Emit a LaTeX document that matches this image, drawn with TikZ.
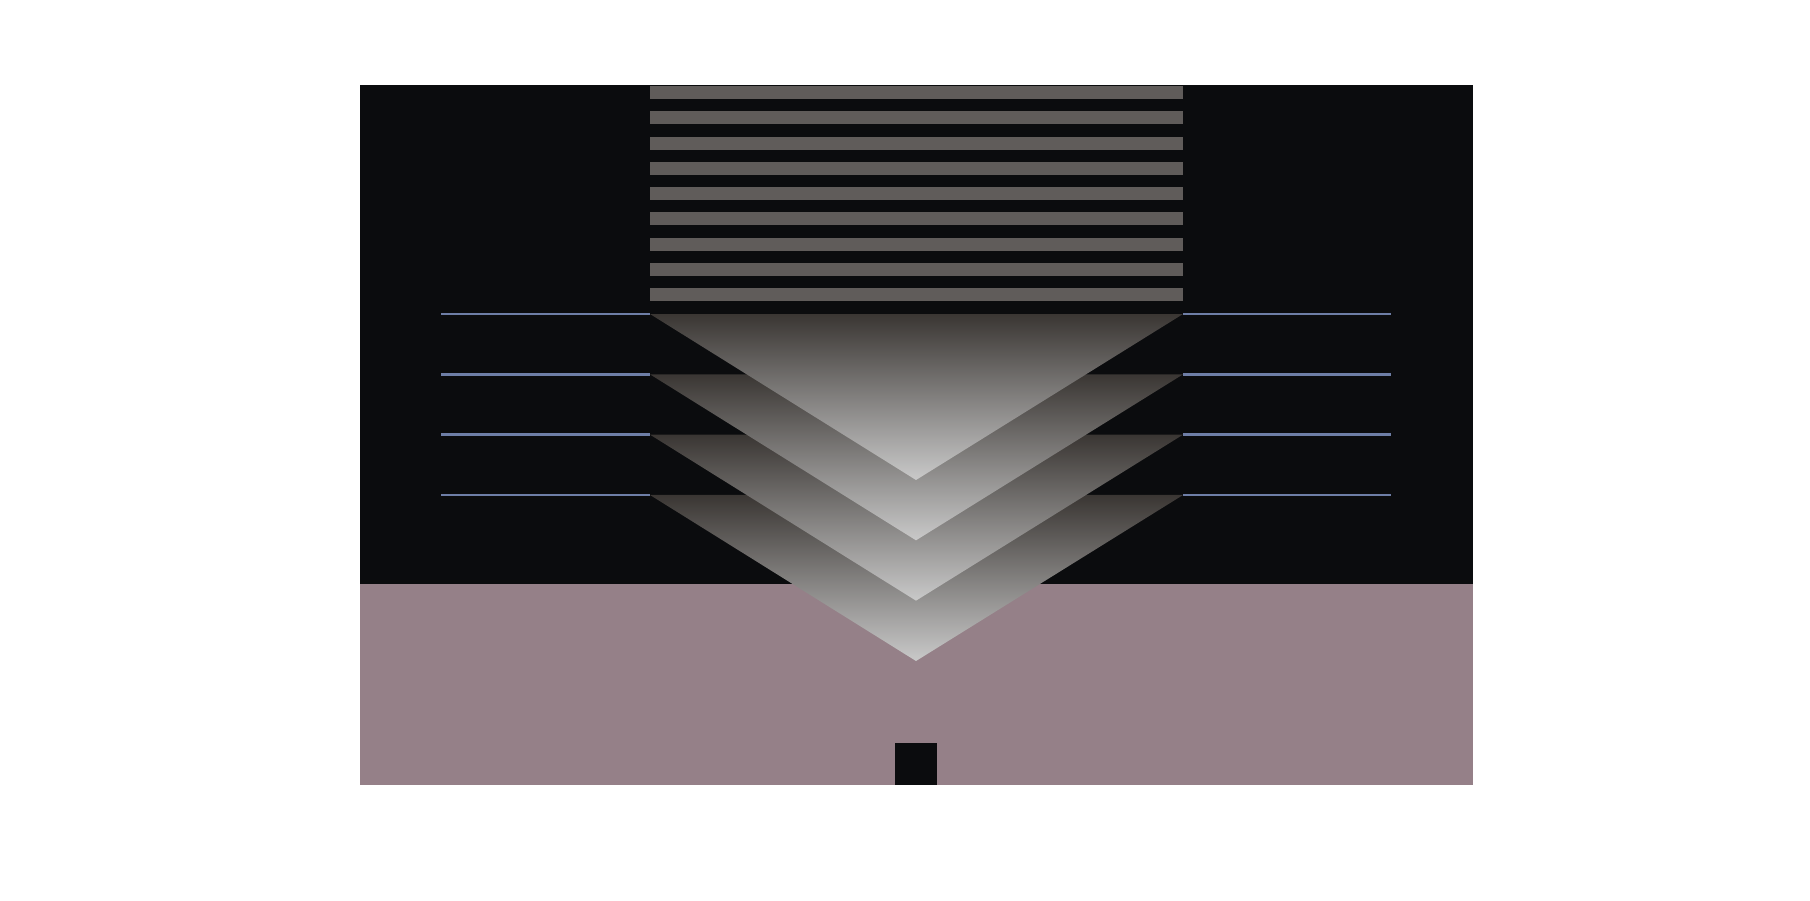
\documentclass[tikz,border=0pt]{standalone}
\usepackage{tikz}

\definecolor{bgblack}{HTML}{0B0C0E}
\definecolor{stripegray}{HTML}{605C5A}
\definecolor{basepink}{HTML}{958088}
\definecolor{levelblue}{HTML}{6E7EA6}
\definecolor{tridark}{HTML}{3A3633}
\definecolor{trilight}{HTML}{C9C9C9}

\begin{document}
\begin{tikzpicture}[x=0.01cm,y=-0.01cm,
    levelline/.style={draw=levelblue,line width=0.8pt},
    chevron/.style={top color=tridark,bottom color=trilight}]

	\useasboundingbox (0,0) rectangle (1810,900);

	% back panels
	\fill[bgblack] (360,85) rectangle (1473,584);
	\fill[basepink] (360,584) rectangle (1473,785);
	\fill[bgblack] (895,743) rectangle (937,785);

	% stripes on top
	\foreach \i in {0,...,8}
		\fill[stripegray] (650,{86+25.25*\i}) rectangle (1183,{99+25.25*\i});

	% levels, lowest first
	\foreach \k in {3,2,1,0} {
		\coordinate (ll\k) at (441,{314+60.33*\k});
		\coordinate (L\k) at (650,{314+60.33*\k});
		\coordinate (R\k) at (1183,{314+60.33*\k});
		\coordinate (rr\k) at (1391,{314+60.33*\k});
		\coordinate (A\k) at (916,{480+60.33*\k});
		\draw[levelline] (ll\k) -- (L\k);
		\draw[levelline] (R\k) -- (rr\k);
		\shade[chevron] (L\k) -- (R\k) -- (A\k) -- cycle;
	}

\end{tikzpicture}
\end{document}
